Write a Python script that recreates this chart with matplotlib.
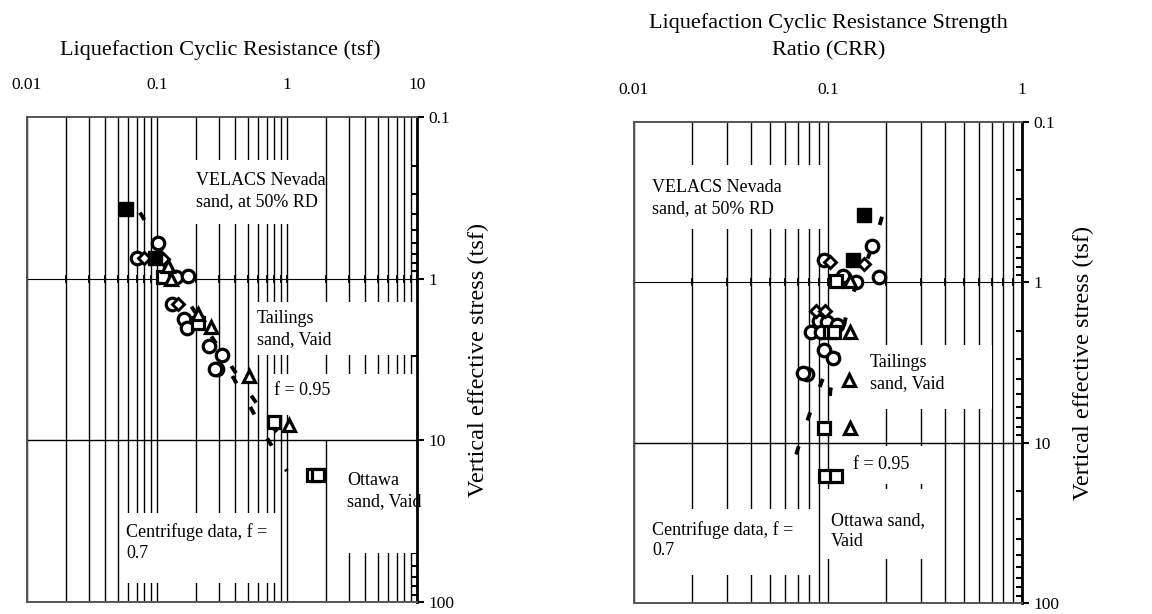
import numpy as np
import matplotlib.pyplot as plt
from matplotlib.patches import Rectangle
from matplotlib.ticker import LogLocator, NullFormatter

plt.rcParams['font.family'] = ['Liberation Serif', 'DejaVu Serif']

# ---- left panel: cyclic resistance (tsf) vs vertical effective stress (tsf)
l_fsq_x = [0.0575, 0.097]
l_fsq_y = [0.37, 0.74]
l_circ_x = [0.102, 0.070, 0.140, 0.174, 0.130, 0.162, 0.170, 0.251, 0.314, 0.290, 0.280]
l_circ_y = [0.60, 0.74, 0.98, 0.96, 1.44, 1.78, 2.03, 2.62, 2.97, 3.62, 3.60]
l_dia_x = [0.079, 0.111, 0.146]
l_dia_y = [0.74, 0.76, 1.44]
l_sq_x = [0.111, 0.206, 0.80, 1.60, 1.72]
l_sq_y = [0.98, 1.88, 7.7, 16.3, 16.3]
l_tri_x = [0.121, 0.129, 0.206, 0.26, 0.508, 1.04]
l_tri_y = [0.84, 1.00, 1.66, 2.00, 4.00, 8.00]
l_line_a_x = [0.074, 0.096, 0.175, 0.48, 0.80, 1.15]
l_line_a_y = [0.39, 0.55, 1.40, 4.7, 8.5, 11.8]
l_line_b_x = [0.38, 0.51, 0.71, 1.00]
l_line_b_y = [4.0, 6.0, 9.8, 15.5]

# ---- right panel: CRR vs vertical effective stress (tsf)
r_fsq_x = [0.153, 0.135]
r_fsq_y = [0.378, 0.73]
r_circ_x = [0.168, 0.095, 0.119, 0.140, 0.183, 0.090, 0.099, 0.112, 0.082, 0.092,
            0.095, 0.106, 0.078, 0.074]
r_circ_y = [0.59, 0.73, 0.91, 0.99, 0.93, 1.73, 1.77, 1.85, 2.04, 2.04,
            2.65, 2.98, 3.72, 3.70]
r_dia_x = [0.103, 0.153, 0.087, 0.097]
r_dia_y = [0.75, 0.77, 1.50, 1.50]
r_sq_x = [0.110, 0.103, 0.108, 0.095, 0.097, 0.110]
r_sq_y = [0.98, 2.04, 2.04, 8.1, 16.1, 16.1]
r_tri_x = [0.130, 0.130, 0.128, 0.130]
r_tri_y = [0.98, 2.04, 4.05, 8.1]
r_line_a_x = [0.190, 0.175, 0.128, 0.103, 0.097]
r_line_a_y = [0.39, 0.55, 1.35, 4.7, 12.5]
r_line_b_x = [0.094, 0.082, 0.072, 0.064]
r_line_b_y = [4.0, 6.2, 9.8, 15.5]

ytick_vals = [0.1, 1, 10, 100]
ytick_labels = ['0.1', '1', '10', '100']

# text boxes: (text, x, y)  and white areas behind them (x0, x1, y0, y1)
l_notes = [('VELACS Nevada\nsand, at 50% RD', 0.20, 0.288),
           ('Tailings\nsand, Vaid', 0.59, 2.06),
           ('f = 0.95', 0.80, 4.9),
           ('Ottawa\nsand, Vaid', 2.9, 20.5),
           ('Centrifuge data, f =\n0.7', 0.058, 42.7)]
l_white = [(0.19, 1.95, 0.185, 0.46), (0.57, 10, 1.4, 2.95), (0.75, 10, 3.9, 7.0),
           (1.2, 10, 7.0, 10), (2.8, 10, 10, 50), (0.055, 0.88, 28, 76)]
r_notes = [('VELACS Nevada\nsand, at 50% RD', 0.0124, 0.298),
           ('Tailings\nsand, Vaid', 0.165, 3.69),
           ('f = 0.95', 0.135, 13.6),
           ('Ottawa sand,\nVaid', 0.104, 35.6),
           ('Centrifuge data, f =\n0.7', 0.0124, 40.5)]
r_white = [(0.0115, 0.092, 0.185, 0.468), (0.16, 0.7, 2.45, 6.2), (0.125, 0.35, 10.5, 18),
           (0.095, 0.35, 19.5, 53), (0.0115, 0.088, 26, 67)]


def style_axis(ax, xlim, xticks, xlabels):
    ax.set_xscale('log')
    ax.set_yscale('log')
    ax.set_xlim(*xlim)
    ax.set_ylim(100, 0.1)
    ax.set_axisbelow(True)
    ax.xaxis.tick_top()
    ax.set_xticks(xticks)
    ax.set_xticklabels(xlabels)
    ax.xaxis.set_minor_locator(LogLocator(base=10, subs=np.arange(2, 10)))
    ax.xaxis.set_minor_formatter(NullFormatter())
    ax.tick_params(axis='x', which='both', length=0, pad=17, labelsize=12.5)
    ax.grid(True, which='both', axis='x', color='k', lw=1)
    ax.yaxis.tick_right()
    ax.set_yticks(ytick_vals)
    ax.set_yticklabels(ytick_labels)
    ax.yaxis.set_minor_locator(LogLocator(base=10, subs=np.arange(2, 10)))
    ax.yaxis.set_minor_formatter(NullFormatter())
    ax.tick_params(axis='y', which='major', direction='out', length=5, width=1.5,
                   labelsize=12.5, pad=3)
    ax.tick_params(axis='y', which='minor', direction='in', length=4, width=1.5)
    ax.yaxis.set_label_position('right')
    ax.set_ylabel('Vertical effective stress (tsf)', fontsize=17.5, labelpad=10)
    ax.axhline(10, color='k', lw=1, zorder=2)
    for s in ['top', 'bottom', 'left']:
        ax.spines[s].set_color('#555555')
        ax.spines[s].set_linewidth(1.4)
    ax.spines['right'].set_linewidth(2)
    # x axis crossing at y = 1
    sec = ax.secondary_xaxis(2 / 3)
    sec.set_xticks(xticks)
    sec.xaxis.set_minor_locator(LogLocator(base=10, subs=np.arange(2, 10)))
    sec.xaxis.set_major_formatter(NullFormatter())
    sec.xaxis.set_minor_formatter(NullFormatter())
    sec.tick_params(which='both', direction='inout', length=6, width=1.3)
    sec.spines['bottom'].set_linewidth(2.6)


def draw_panel(ax, fsq, circ, dia, sq, tri, lines, notes, whites):
    for x0, x1, y0, y1 in whites:
        ax.add_patch(Rectangle((x0, y0), x1 - x0, y1 - y0, fc='white', ec='none', zorder=1.5))
    for lx, ly in lines:
        ax.plot(lx, ly, color='k', lw=2.8, ls=(0, (2.2, 7)), zorder=3)
    ax.plot(circ[0], circ[1], 'o', ms=9, mfc='white', mec='k', mew=2.3, ls='none', zorder=4)
    ax.plot(dia[0], dia[1], 'D', ms=6.5, mfc='white', mec='k', mew=2.1, ls='none', zorder=4)
    ax.plot(sq[0], sq[1], 's', ms=8.5, mfc='white', mec='k', mew=2.3, ls='none', zorder=4)
    ax.plot(tri[0], tri[1], '^', ms=9, mfc='white', mec='k', mew=2.3, ls='none', zorder=4)
    ax.plot(fsq[0], fsq[1], 's', ms=10, mfc='k', mec='k', ls='none', zorder=4)
    for s, x, y in notes:
        ax.text(x, y, s, fontsize=13, ha='left', va='center', linespacing=1.3, zorder=5)


fig = plt.figure(figsize=(11.52, 6.14), dpi=100)
ax1 = fig.add_axes([0.0234, 0.0195, 0.3385, 0.790])
ax2 = fig.add_axes([0.5503, 0.0179, 0.3368, 0.7834])

style_axis(ax1, (0.01, 10), [0.01, 0.1, 1, 10], ['0.01', '0.1', '1', '10'])
style_axis(ax2, (0.01, 1), [0.01, 0.1, 1], ['0.01', '0.1', '1'])

draw_panel(ax1, (l_fsq_x, l_fsq_y), (l_circ_x, l_circ_y), (l_dia_x, l_dia_y),
           (l_sq_x, l_sq_y), (l_tri_x, l_tri_y),
           [(l_line_a_x, l_line_a_y), (l_line_b_x, l_line_b_y)], l_notes, l_white)
draw_panel(ax2, (r_fsq_x, r_fsq_y), (r_circ_x, r_circ_y), (r_dia_x, r_dia_y),
           (r_sq_x, r_sq_y), (r_tri_x, r_tri_y),
           [(r_line_a_x, r_line_a_y), (r_line_b_x, r_line_b_y)], r_notes, r_white)

fig.text(0.191, 0.9186, 'Liquefaction Cyclic Resistance (tsf)', fontsize=16,
         ha='center', va='center')
fig.text(0.719, 0.94, 'Liquefaction Cyclic Resistance Strength\nRatio (CRR)', fontsize=16,
         ha='center', va='center', linespacing=1.6)

fig.savefig('out.png', dpi=100)
